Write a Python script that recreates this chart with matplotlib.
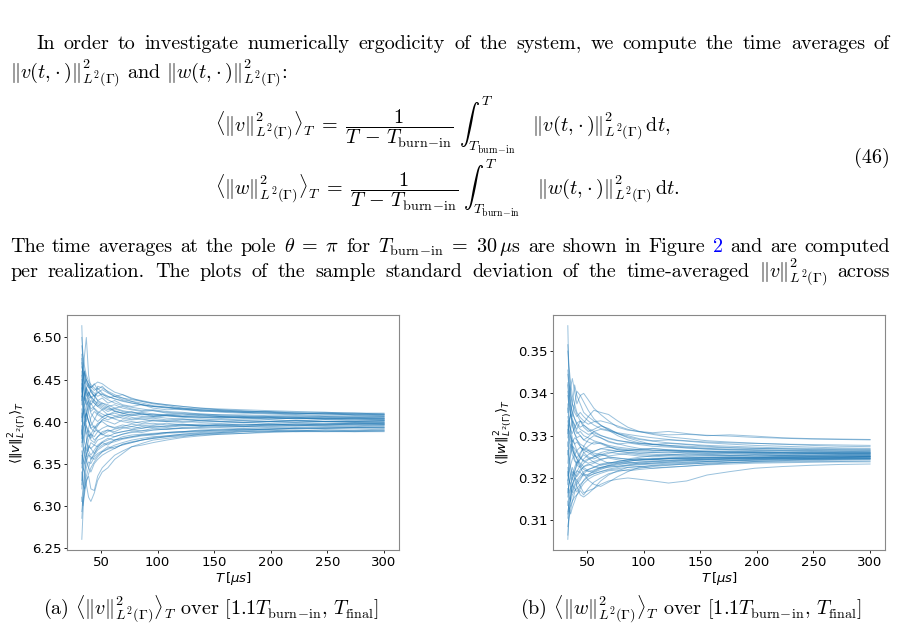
import numpy as np
import matplotlib
matplotlib.use("Agg")
import matplotlib.pyplot as plt

# time grid (microseconds) shared by all realizations
T = [33, 34, 35.5, 37, 39, 41, 44, 47, 51, 56, 62, 69, 77, 86, 96, 108, 122, 138, 156, 176, 198, 222, 248, 274, 300]

# <||v||^2>_T per realization, offsets from 6.400 in units of 0.001
v_center = 6.400
v_dev = [
    [114, 70, 40, 30, 35, 28, 32, 25, 28, 22, 25, 20, 18, 20, 16, 14, 15, 12, 13, 11, 10, 9, 10, 8, 8],
    [30, 60, 80, 100, 55, 40, 45, 38, 42, 35, 30, 32, 27, 25, 22, 20, 18, 16, 14, 12, 11, 10, 9, 8, 7],
    [-140, -110, -70, -55, -48, -50, -42, -38, -35, -30, -32, -27, -25, -22, -20, -18, -16, -15, -14, -12, -11, -11, -10, -11, -10],
    [-107, -90, -60, -75, -90, -95, -85, -70, -60, -55, -45, -38, -30, -26, -22, -20, -18, -15, -13, -11, -10, -12, -11, -12, -12],
    [-60, -75, -80, -70, -65, -80, -82, -65, -55, -48, -40, -35, -30, -28, -25, -22, -19, -17, -15, -14, -12, -11, -10, -10, -9],
    [75, 55, 60, 50, 45, 40, 44, 47, 45, 40, 35, 32, 28, 24, 21, 19, 16, 14, 12, 11, 10, 9, 9, 8, 8],
    [20, 45, 30, 40, 45, 38, 34, 30, 33, 28, 30, 26, 24, 20, 18, 17, 15, 13, 12, 11, 12, 10, 9, 10, 9],
    [-30, -15, 5, 10, 0, -8, -5, -12, -8, -5, -8, -6, -3, -5, -4, -2, -4, -3, -2, -1, -2, -1, 0, -1, -1],
    [50, 25, 10, 0, 15, 22, 15, 10, 14, 8, 12, 10, 7, 9, 6, 8, 6, 5, 6, 4, 5, 3, 4, 3, 3],
    [-50, -35, -30, -42, -28, -32, -38, -30, -25, -28, -22, -20, -18, -16, -15, -13, -12, -10, -9, -8, -7, -7, -6, -6, -5],
    [10, -15, -25, -35, -22, -15, -18, -12, -15, -18, -14, -12, -10, -11, -8, -9, -7, -6, -5, -6, -4, -5, -4, -3, -3],
    [65, 60, 45, 35, 30, 38, 30, 25, 22, 18, 20, 16, 14, 12, 13, 10, 9, 8, 7, 6, 5, 5, 4, 4, 4],
    [-20, 10, 30, 40, 35, 28, 22, 18, 22, 20, 16, 18, 15, 13, 14, 12, 11, 9, 8, 7, 6, 6, 6, 5, 5],
    [30, 15, 0, -15, -8, 5, 12, 8, 5, 2, 6, 8, 5, 3, 4, 2, 3, 1, 2, 1, 0, 1, 0, 0, 1],
    [-80, -60, -50, -40, -32, -25, -28, -22, -20, -16, -18, -15, -12, -13, -10, -9, -8, -8, -7, -6, -6, -5, -5, -5, -4],
    [0, 20, 30, 20, 10, 0, -8, -4, 2, 6, 3, 0, -2, 0, 2, 1, 0, -1, 0, 1, 0, -1, 0, 0, -1],
    [90, 75, 55, 45, 40, 42, 37, 40, 34, 30, 27, 24, 22, 20, 18, 17, 16, 15, 14, 13, 11, 10, 10, 9, 8],
    [-40, -55, -60, -48, -40, -42, -45, -40, -36, -33, -30, -28, -25, -22, -20, -18, -17, -16, -15, -14, -13, -12, -12, -11, -11],
    [15, 0, -5, 8, 20, 25, 22, 18, 14, 18, 12, 10, 12, 8, 9, 7, 6, 5, 4, 5, 3, 4, 3, 2, 2],
    [-10, -30, -40, -25, -10, -15, -22, -18, -14, -10, -12, -8, -6, -8, -5, -6, -4, -5, -4, -3, -4, -3, -3, -2, -3],
    [45, 30, 20, 10, 0, -5, 2, 10, 6, 8, 10, 7, 8, 6, 5, 7, 5, 4, 5, 4, 3, 4, 3, 3, 2],
    [-95, -80, -60, -45, -38, -45, -40, -34, -30, -26, -24, -21, -19, -17, -16, -14, -13, -12, -11, -10, -9, -9, -8, -8, -8],
    [25, 45, 58, 50, 42, 35, 30, 35, 32, 30, 27, 25, 22, 20, 18, 16, 15, 14, 13, 12, 12, 11, 11, 10, 10],
    [-25, -10, 0, -20, -35, -40, -34, -28, -24, -20, -22, -18, -16, -15, -14, -13, -12, -11, -10, -9, -9, -8, -8, -7, -7],
    [55, 45, 30, 20, 25, 15, 18, 24, 20, 16, 13, 10, 8, 10, 7, 8, 9, 7, 6, 5, 6, 5, 4, 5, 4],
    [-70, -50, -35, -25, -15, -20, -12, -10, -16, -12, -9, -7, -9, -6, -7, -5, -4, -5, -3, -4, -3, -3, -2, -3, -2],
    [5, 10, 15, -5, -18, -15, -8, -2, 0, -5, -7, -4, -6, -3, -2, -4, -3, -5, -4, -5, -4, -3, -4, -3, -3],
    [80, 50, 30, 25, 35, 30, 25, 22, 18, 14, 16, 13, 11, 9, 8, 7, 6, 6, 5, 5, 4, 4, 3, 4, 3],
    [-55, -35, -15, -5, -12, -22, -25, -18, -12, -10, -14, -12, -10, -8, -6, -7, -5, -4, -5, -4, -3, -4, -3, -2, -2],
    [35, 50, 60, 35, 22, 12, 16, 12, 9, 6, 4, 6, 3, 5, 6, 4, 3, 2, 3, 2, 2, 1, 2, 1, 1],
    [-115, -95, -80, -65, -55, -45, -38, -32, -28, -25, -22, -20, -18, -16, -15, -13, -12, -11, -10, -9, -9, -8, -8, -7, -7],
    [60, 20, 5, 10, 0, -8, -12, -5, 2, 0, -3, 2, 0, -2, 1, 0, -1, 1, 0, -1, 0, 1, 0, -1, 0],
    [-35, -45, -50, -38, -30, -32, -28, -30, -25, -22, -18, -15, -13, -11, -10, -9, -8, -7, -6, -6, -5, -5, -4, -4, -4],
    [70, 55, 45, 50, 42, 36, 30, 34, 38, 34, 30, 28, 26, 24, 22, 20, 18, 16, 15, 14, 13, 12, 11, 10, 9],
    [-15, 5, 20, 25, 18, 10, 4, 0, 5, 9, 7, 4, 2, 3, 1, 0, 2, 1, 0, -1, 0, 1, 0, 0, 1],
    [-90, -100, -85, -72, -62, -55, -48, -42, -36, -32, -28, -25, -22, -20, -18, -17, -15, -14, -13, -12, -12, -11, -12, -12, -11],
    [100, 80, 65, 55, 48, 44, 40, 36, 30, 26, 22, 19, 17, 15, 13, 11, 10, 9, 8, 8, 7, 7, 6, 6, 6],
    [-75, -55, -40, -45, -55, -60, -50, -45, -40, -36, -32, -27, -24, -22, -19, -17, -15, -13, -12, -10, -9, -8, -7, -7, -6],
    [-5, -25, -10, 12, 28, 30, 25, 20, 16, 12, 15, 12, 10, 11, 9, 8, 7, 8, 6, 6, 5, 4, 5, 4, 4],
    [40, 30, 25, 40, 30, 20, 26, 42, 40, 36, 32, 28, 24, 22, 19, 17, 14, 13, 11, 10, 9, 8, 7, 7, 6],
]

# <||w||^2>_T per realization, offsets from 0.3255 in units of 0.0001
w_center = 0.3255
w_dev = [
    [305, 180, 110, 70, 50, 40, 45, 35, 30, 25, 28, 22, 18, 15, 12, 10, 9, 8, 7, 6, 5, 5, 4, 4, 4],
    [-200, -150, -100, -70, -55, -60, -50, -40, -35, -30, -25, -22, -18, -15, -12, -10, -9, -8, -7, -6, -5, -6, -5, -5, -4],
    [245, 200, 150, 120, 165, 140, 120, 100, 90, 80, 70, 60, 50, 42, 36, 32, 28, 25, 22, 20, 18, 16, 15, 14, 13],
    [100, 130, 160, 180, 150, 120, 140, 145, 130, 110, 95, 80, 65, 58, 55, 52, 55, 50, 45, 47, 44, 40, 38, 37, 36],
    [-140, -130, -120, -110, -100, -95, -85, -95, -80, -65, -55, -45, -40, -35, -32, -28, -25, -22, -20, -18, -16, -15, -14, -13, -12],
    [-135, -120, -100, -85, -70, -60, -75, -90, -85, -80, -70, -62, -58, -55, -58, -62, -67, -62, -48, -40, -32, -28, -25, -23, -22],
    [50, 80, 95, 85, 70, 60, 80, 75, 90, 105, 100, 95, 80, 65, 55, 48, 42, 38, 33, 30, 27, 25, 22, 20, 19],
    [-60, -30, 0, 20, 15, 5, -8, -15, -10, -5, 0, 6, 3, 0, -3, -5, -3, -4, -2, -3, -1, -2, -1, 0, 0],
    [120, 90, 60, 40, 25, 30, 20, 5, -5, -10, -3, 3, 8, 10, 7, 5, 4, 6, 4, 3, 4, 2, 3, 2, 2],
    [-80, -100, -110, -95, -85, -80, -70, -62, -52, -45, -40, -36, -33, -30, -28, -26, -24, -22, -20, -19, -18, -17, -16, -16, -15],
    [170, 140, 115, 100, 85, 70, 60, 55, 48, 52, 45, 40, 34, 30, 26, 24, 27, 24, 20, 17, 15, 14, 12, 11, 11],
    [0, 30, 45, 20, -10, -25, -30, -20, -12, -5, 2, -5, -8, -10, -6, -3, 0, 2, 1, -1, 0, -2, -1, -1, -1],
    [-100, -70, -45, -30, -50, -75, -95, -100, -92, -80, -62, -48, -38, -30, -28, -32, -30, -27, -23, -19, -16, -14, -12, -11, -10],
    [80, 60, 45, 30, 40, 35, 20, 10, 20, 30, 26, 18, 12, 10, 13, 15, 11, 9, 7, 6, 7, 5, 5, 4, 4],
    [30, 0, -30, -50, -40, -25, -10, 5, 10, 0, -12, -20, -16, -12, -9, -11, -8, -7, -6, -5, -6, -4, -4, -3, -3],
    [200, 170, 140, 120, 100, 90, 100, 90, 80, 70, 62, 58, 52, 48, 44, 40, 36, 33, 30, 28, 27, 25, 24, 23, 22],
    [-120, -95, -80, -90, -75, -65, -55, -45, -50, -45, -40, -34, -30, -26, -24, -22, -20, -18, -16, -14, -12, -10, -9, -8, -7],
    [60, 35, 15, 0, -15, -20, -10, 0, -8, -18, -24, -20, -16, -12, -10, -11, -9, -10, -8, -7, -6, -5, -5, -4, -4],
    [140, 115, 90, 80, 60, 50, 55, 45, 40, 33, 28, 20, 12, 10, 12, 14, 12, 10, 9, 8, 7, 6, 6, 5, 5],
    [-40, -60, -70, -55, -45, -38, -42, -50, -46, -40, -32, -25, -20, -18, -22, -20, -17, -14, -12, -10, -9, -8, -8, -7, -6],
    [20, 45, 60, 80, 70, 55, 45, 35, 42, 55, 60, 56, 50, 45, 38, 33, 35, 32, 28, 25, 22, 20, 18, 16, 15],
    [-170, -150, -130, -110, -90, -70, -60, -45, -35, -30, -22, -18, -20, -16, -12, -9, -7, -6, -7, -8, -7, -6, -5, -5, -4],
    [90, 75, 60, 50, 65, 75, 80, 70, 60, 48, 40, 32, 26, 20, 15, 11, 9, 7, 6, 5, 5, 4, 3, 3, 2],
    [-20, 10, 25, 10, 0, 10, 18, 12, 5, -3, 5, 10, 8, 6, 4, 5, 6, 4, 3, 4, 3, 2, 3, 2, 3],
    [110, 80, 50, 25, 5, -10, -20, -28, -25, -20, -12, -6, -8, -11, -13, -11, -9, -10, -11, -10, -9, -9, -8, -8, -8],
    [-110, -130, -140, -125, -110, -95, -80, -68, -58, -50, -44, -38, -36, -38, -35, -32, -29, -27, -24, -22, -20, -19, -18, -17, -17],
    [150, 125, 95, 70, 50, 35, 25, 20, 12, 8, 14, 18, 15, 12, 10, 8, 10, 9, 8, 7, 6, 6, 6, 5, 5],
    [-50, -20, 10, 35, 25, 10, -5, -15, -20, -16, -10, -8, -12, -15, -13, -12, -10, -9, -8, -7, -7, -6, -6, -6, -5],
    [190, 160, 125, 100, 85, 75, 65, 70, 62, 55, 46, 38, 33, 30, 27, 25, 22, 20, 18, 16, 15, 14, 13, 12, 11],
    [-70, -45, -25, -10, 0, -10, -25, -35, -40, -36, -30, -26, -22, -20, -17, -15, -13, -12, -11, -10, -10, -9, -9, -8, -8],
    [40, 70, 100, 120, 110, 95, 80, 65, 55, 60, 68, 62, 50, 40, 32, 24, 20, 16, 13, 11, 10, 9, 8, 8, 7],
    [-150, -110, -85, -70, -80, -88, -75, -60, -48, -38, -30, -26, -28, -25, -22, -20, -18, -17, -16, -14, -13, -12, -11, -11, -10],
    [70, 50, 30, 15, 0, -8, 5, 15, 10, 4, 0, -3, 0, 3, 0, -2, 0, 1, 0, -1, 0, 1, 0, 0, 0],
    [-90, -70, -55, -40, -45, -52, -40, -28, -22, -28, -32, -30, -27, -24, -20, -17, -15, -14, -13, -12, -11, -10, -10, -9, -9],
    [260, 210, 170, 140, 120, 100, 88, 80, 72, 78, 80, 75, 68, 60, 54, 50, 47, 48, 46, 44, 41, 39, 37, 36, 35],
    [-30, -55, -80, -70, -55, -40, -25, -10, 0, 8, 14, 12, 8, 5, 3, 1, -1, -2, -3, -2, -3, -2, -2, -2, -2],
    [-190, -140, -100, -75, -60, -48, -35, -30, -38, -42, -35, -28, -24, -20, -18, -16, -14, -12, -10, -9, -8, -7, -6, -6, -5],
    [165, 130, 100, 90, 120, 150, 140, 125, 105, 85, 70, 58, 45, 35, 28, 25, 22, 18, 15, 13, 12, 11, 10, 9, 9],
    [-60, -90, -75, -50, -30, -15, -30, -45, -60, -70, -75, -65, -52, -40, -30, -25, -22, -20, -17, -15, -13, -12, -11, -10, -10],
    [10, -25, -50, -60, -40, -20, 0, 20, 35, 45, 40, 30, 25, 28, 24, 20, 18, 16, 14, 12, 11, 10, 9, 8, 8],
]

W, H = 897, 630
fig = plt.figure(figsize=(W / 100, H / 100), dpi=100)
fig.patch.set_facecolor("white")

body = dict(family="cmr10", math_fontfamily="cm", fontsize=14.5)
BI = r"\mathrm{burn}\!-\!\mathrm{in}"


def px(x, y):
    return x / W, 1 - y / H


def justify(tokens, y, x0, x1):
    # set a line of words flush left and right, like the typeset page
    texts = []
    for tok in tokens:
        s, c = tok if isinstance(tok, tuple) else (tok, "black")
        texts.append(fig.text(0, 0, s, color=c, va="baseline", **body))
    r = fig.canvas.get_renderer()
    widths = [t.get_window_extent(r).width for t in texts]
    gap = (x1 - x0 - sum(widths)) / (len(texts) - 1)
    x = x0
    for t, w in zip(texts, widths):
        t.set_position(px(x, y))
        x += w + gap


justify("In order to investigate numerically ergodicity of the system, we compute the time averages of".split(),
        49, 36, 890)
fig.text(*px(10, 78), r"$\Vert v(t,\!\cdot)\Vert^2_{L^2(\Gamma)}$ and $\Vert w(t,\!\cdot)\Vert^2_{L^2(\Gamma)}$:",
         va="baseline", **body)

for yy, f, end in [(125, "v", ","), (188, "w", ".")]:
    fig.text(*px(215, yy),
             r"$\langle\Vert %s\Vert^2_{L^2(\Gamma)}\rangle_T\;=\;\dfrac{1}{T\,-\,T_{%s}}\;"
             r"\int_{T_{%s}}^{T}\quad\Vert %s(t,\!\cdot)\Vert^2_{L^2(\Gamma)}\,\mathrm{d}t%s$" % (f, BI, BI, f, end),
             va="center", **body)
fig.text(*px(890, 158), "(46)", ha="right", va="center", **body)

line3 = ["The", "time", "averages", "at", "the", "pole", r"$\theta\;=\;\pi$", "for",
         r"$T_{%s}\;=\;30\,\mu\mathrm{s}$" % BI, "are", "shown", "in", "Figure",
         ("2", "#0000ff"), "and", "are", "computed"]
justify(line3, 252, 10, 890)
line4 = ["per", "realization.", "The", "plots", "of", "the", "sample", "standard", "deviation", "of",
         "the", "time-averaged", r"$\Vert v\Vert^2_{L^2(\Gamma)}$", "across"]
justify(line4, 277, 10, 890)

panels = [
    (66.7, v_center, 0.001, v_dev, r"$\langle\Vert v\Vert^2_{L^2(\Gamma)}\rangle_T$"),
    (552.7, w_center, 0.0001, w_dev, r"$\langle\Vert w\Vert^2_{L^2(\Gamma)}\rangle_T$"),
]
for left, center, unit, devs, ylab in panels:
    ax = fig.add_axes([left / W, 80 / H, 332.5 / W, 235 / H])
    for d in devs:
        ax.plot(T, center + np.array(d) * unit, color="#1f77b4", lw=0.7, alpha=0.45)
    ax.set_xlabel(r"$T\,[\mu s]$", fontsize=9.5, labelpad=1)
    ax.set_ylabel(ylab, fontsize=9.5, labelpad=2)
    ax.tick_params(labelsize=9.5, length=2.5, width=0.6, pad=1.5)
    for s in ax.spines.values():
        s.set_color("#888888")
        s.set_linewidth(0.8)

fig.text(*px(211, 609), r"(a) $\langle\Vert v\Vert^2_{L^2(\Gamma)}\rangle_T$ over $[1.1T_{%s},\, T_{\mathrm{final}}]$" % BI,
         ha="center", va="center", **body)
fig.text(*px(691, 609), r"(b) $\langle\Vert w\Vert^2_{L^2(\Gamma)}\rangle_T$ over $[1.1T_{%s},\, T_{\mathrm{final}}]$" % BI,
         ha="center", va="center", **body)

fig.savefig("out.png", dpi=100)
